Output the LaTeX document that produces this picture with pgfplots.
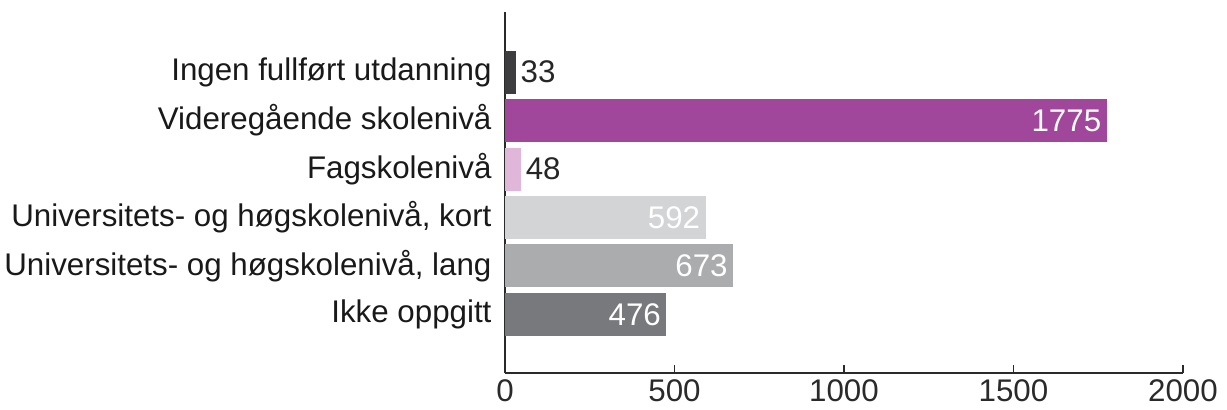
\documentclass[border=0pt]{standalone}
\usepackage{pgfplots}
\pgfplotsset{compat=1.18}
\usepackage{fontspec}
\setmainfont{Liberation Sans}
\definecolor{cIngen}{HTML}{3D3D3F}
\definecolor{cVgs}{HTML}{A0479B}
\definecolor{cFag}{HTML}{E0B6D9}
\definecolor{cKort}{HTML}{D3D4D6}
\definecolor{cLang}{HTML}{ABACAE}
\definecolor{cIkke}{HTML}{78797C}
\definecolor{axcol}{HTML}{2A2A2A}
\newcommand{\bigf}{\fontsize{31.3bp}{36bp}\selectfont}
\begin{document}
\begin{tikzpicture}
\useasboundingbox (-505bp,-37bp) rectangle (722bp,373bp);
\begin{axis}[
  at={(0,0)}, anchor=south west,
  scale only axis, width=678bp, height=361bp,
  xbar, bar width=43bp, bar shift=0pt,
  xmin=0, xmax=2000,
  ymin=-1.24, ymax=6.21, y dir=reverse,
  axis x line*=bottom, axis y line*=left,
  x axis line style={axcol, line width=2.6bp},
  y axis line style={axcol, line width=2.6bp},
  xtick={0,500,1000,1500,2000},
  ytick={0,1,2,3,4,5},
  yticklabels={Ingen fullført utdanning, Videregående skolenivå, Fagskolenivå, {Universitets- og høgskolenivå, kort}, {Universitets- og høgskolenivå, lang}, Ikke oppgitt},
  extra y ticks={0.5,1.5,2.5,3.5,4.5},
  extra y tick labels={},
  extra y tick style={major tick length=5bp, tick style={axcol, line width=1.6bp}, tick align=outside},
  y tick label style={font=\bigf, text=black!90, xshift=-10bp},
  x tick label style={font=\bigf, text=axcol, yshift=-3bp},
  /pgf/number format/assume math mode=true,
  /pgf/number format/1000 sep={},
  xtick style={axcol, line width=1.8bp},
  major tick length=8bp,
  tick align=inside,
  ytick style={draw=none},
  clip=false,
  point meta=x,
  nodes near coords,
  nodes near coords style={font=\bigf},
]
\addplot[fill=cIngen, draw=none, nodes near coords style={anchor=west, text=black!85, xshift=1bp}] coordinates {(33,0)};
\addplot[fill=cVgs, draw=none, nodes near coords style={anchor=east, text=white, xshift=-2bp}] coordinates {(1775,1)};
\addplot[fill=cFag, draw=none, nodes near coords style={anchor=west, text=black!85, xshift=1bp}] coordinates {(48,2)};
\addplot[fill=cKort, draw=none, nodes near coords style={anchor=east, text=white, xshift=-2bp}] coordinates {(592,3)};
\addplot[fill=cLang, draw=none, nodes near coords style={anchor=east, text=white, xshift=-2bp}] coordinates {(673,4)};
\addplot[fill=cIkke, draw=none, nodes near coords style={anchor=east, text=white, xshift=-2bp}] coordinates {(476,5)};
\end{axis}
\end{tikzpicture}
\end{document}
